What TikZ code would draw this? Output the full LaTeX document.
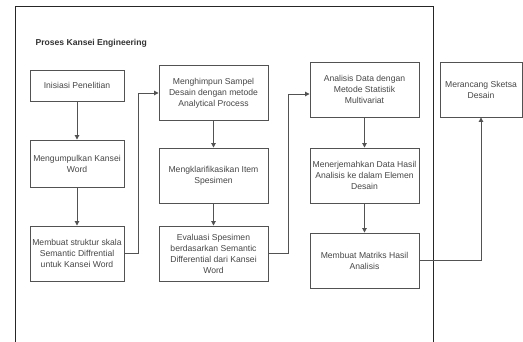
\documentclass[tikz,border=0pt]{standalone}
\usepackage{fontspec}
\setmainfont{Liberation Sans}
\usetikzlibrary{arrows.meta}

\begin{document}
\begin{tikzpicture}[
    x=1pt, y=-1pt,
    >={Triangle[width=4.5pt,length=4.5pt]},
    procbox/.style={draw=black!68, line width=0.9pt, fill=white, align=center,
        font=\fontsize{8.6}{11}\selectfont, text=black!72, inner sep=1pt,
        minimum width=109pt, minimum height=55pt},
    frameline/.style={draw=black!85, line width=1pt},
    conn/.style={black!68, line width=0.9pt, ->}
]
\useasboundingbox (0,0) rectangle (523,342);

% Outer frame
\draw[frameline] (15,342) |- (433,7) -- (433,342);
\node[anchor=west, font=\fontsize{8.6}{10}\selectfont\bfseries, text=black!80] (title) at (32,43) {Proses Kansei Engineering};

% Column 1
\node[procbox, minimum width=94pt, minimum height=31pt] (B1) at (77,85.5) {Inisiasi Penelitian};
\node[procbox, minimum width=94pt, minimum height=47pt] (B2) at (77,163.5) {Mengumpulkan Kansei\\Word};
\node[procbox, minimum width=94pt] (B3) at (77,253.5) {Membuat struktur skala\\Semantic Diffrential\\untuk Kansei Word};

% Column 2
\node[procbox] (B4) at (213.5,93) {Menghimpun Sampel\\Desain dengan metode\\Analytical Process};
\node[procbox] (B5) at (213.5,175.5) {Mengklarifikasikan Item\\Spesimen};
\node[procbox] (B6) at (213.5,253.5) {Evaluasi Spesimen\\berdasarkan Semantic\\Differential dari Kansei\\Word};

% Column 3
\node[procbox] (B7) at (364.5,89.5) {Analisis Data dengan\\Metode Statistik\\Multivariat};
\node[procbox] (B8) at (364.5,175.5) {Menerjemahkan Data Hasil\\Analisis ke dalam Elemen\\Desain};
\node[procbox] (B9) at (364.5,260.5) {Membuat Matriks Hasil\\Analisis};

% Outside the frame
\node[procbox, minimum width=82pt] (B10) at (481,89.5) {Merancang Sketsa\\Desain};

% Connections: down each column
\foreach \a/\b in {B1/B2,B2/B3,B4/B5,B5/B6,B7/B8,B8/B9}
    \draw[conn] (\a) -- (\b);

% Connections: between columns
\draw[conn] (B3.east) -- ++(14,0) |- (B4.west);
\draw[conn] (B6.east) -- ++(20,0) |- ([yshift=-4.5pt]B7.west);
\draw[conn] (B9.east) -| (B10.south);

\end{tikzpicture}
\end{document}
